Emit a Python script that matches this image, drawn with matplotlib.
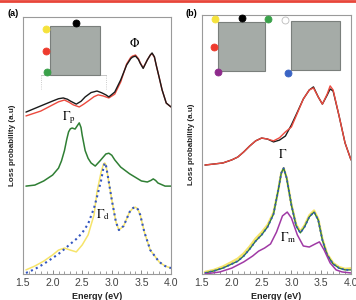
import matplotlib
matplotlib.use("Agg")
import matplotlib.pyplot as plt
from matplotlib.patches import Rectangle
from matplotlib.ticker import MultipleLocator

plt.rcParams['mathtext.fontset'] = 'stix'

# ---------------- data: panel (a) ----------------
E_phi_black = [1.55, 1.8, 2.0, 2.1, 2.18, 2.25, 2.3, 2.4, 2.48, 2.55, 2.65, 2.75, 2.83, 2.9, 2.95, 3.05, 3.15, 3.25, 3.32, 3.35, 3.4, 3.45, 3.48, 3.53, 3.6, 3.65, 3.68, 3.72, 3.75, 3.8, 3.85, 3.92, 4.0]
phi_black = [0.630, 0.654, 0.673, 0.682, 0.685, 0.680, 0.673, 0.661, 0.672, 0.689, 0.706, 0.712, 0.705, 0.697, 0.689, 0.708, 0.755, 0.813, 0.838, 0.844, 0.848, 0.835, 0.820, 0.800, 0.833, 0.852, 0.860, 0.845, 0.813, 0.765, 0.716, 0.665, 0.650]
E_phi_red = [1.55, 1.8, 2.0, 2.1, 2.2, 2.28, 2.35, 2.45, 2.52, 2.6, 2.7, 2.77, 2.85, 2.95, 3.05, 3.15, 3.25, 3.32, 3.35, 3.4, 3.45, 3.48, 3.53, 3.6, 3.65, 3.68, 3.72, 3.75, 3.8, 3.85, 3.92, 4.0]
phi_red = [0.615, 0.634, 0.658, 0.670, 0.677, 0.668, 0.658, 0.650, 0.660, 0.673, 0.690, 0.697, 0.693, 0.685, 0.700, 0.747, 0.817, 0.843, 0.848, 0.852, 0.838, 0.822, 0.802, 0.833, 0.852, 0.858, 0.843, 0.813, 0.765, 0.716, 0.665, 0.650]

E_gp = [1.55, 1.7, 1.85, 2.0, 2.1, 2.15, 2.2, 2.24, 2.27, 2.3, 2.33, 2.38, 2.42, 2.45, 2.48, 2.5, 2.55, 2.6, 2.65, 2.72, 2.8, 2.9, 2.95, 3.0, 3.05, 3.15, 3.3, 3.5, 3.6, 3.66, 3.7, 3.74, 3.78, 3.9, 4.0]
gamma_p = [0.342, 0.346, 0.362, 0.385, 0.412, 0.440, 0.480, 0.525, 0.553, 0.565, 0.568, 0.564, 0.578, 0.588, 0.570, 0.540, 0.480, 0.450, 0.432, 0.420, 0.440, 0.467, 0.470, 0.462, 0.444, 0.416, 0.390, 0.362, 0.358, 0.364, 0.370, 0.364, 0.354, 0.342, 0.342]

E_gd = [1.55, 1.7, 1.85, 2.0, 2.1, 2.2, 2.3, 2.4, 2.5, 2.6, 2.7, 2.75, 2.82, 2.86, 2.88, 2.9, 2.93, 3.0, 3.07, 3.12, 3.2, 3.3, 3.36, 3.4, 3.44, 3.48, 3.55, 3.65, 3.8, 3.9, 4.0]
gamma_d_yellow = [0.016, 0.031, 0.050, 0.074, 0.093, 0.101, 0.093, 0.086, 0.113, 0.152, 0.230, 0.320, 0.397, 0.428, 0.432, 0.425, 0.385, 0.288, 0.202, 0.171, 0.187, 0.241, 0.257, 0.260, 0.252, 0.230, 0.163, 0.093, 0.047, 0.031, 0.023]
gamma_d_blue = [0.004, 0.019, 0.039, 0.062, 0.078, 0.097, 0.117, 0.136, 0.160, 0.195, 0.257, 0.300, 0.365, 0.415, 0.432, 0.425, 0.385, 0.288, 0.202, 0.171, 0.187, 0.241, 0.257, 0.260, 0.252, 0.230, 0.163, 0.093, 0.047, 0.031, 0.023]

# ---------------- data: panel (b) ----------------
E_b_top = [1.55, 1.7, 1.85, 2.0, 2.1, 2.2, 2.3, 2.4, 2.5, 2.6, 2.7, 2.8, 2.9, 3.0, 3.1, 3.2, 3.3, 3.37, 3.45, 3.52, 3.6, 3.65, 3.7, 3.8, 3.9, 4.0]
b_black = [0.424, 0.428, 0.432, 0.444, 0.455, 0.475, 0.498, 0.518, 0.529, 0.525, 0.514, 0.521, 0.537, 0.580, 0.630, 0.681, 0.716, 0.728, 0.689, 0.661, 0.696, 0.720, 0.712, 0.615, 0.510, 0.444]
b_red = [0.424, 0.428, 0.432, 0.444, 0.455, 0.475, 0.498, 0.518, 0.529, 0.525, 0.518, 0.530, 0.553, 0.572, 0.626, 0.681, 0.716, 0.724, 0.689, 0.661, 0.700, 0.732, 0.716, 0.615, 0.510, 0.444]

E_g = [1.55, 1.7, 1.85, 2.0, 2.1, 2.2, 2.3, 2.4, 2.5, 2.6, 2.7, 2.78, 2.83, 2.87, 2.92, 3.0, 3.08, 3.15, 3.22, 3.3, 3.38, 3.45, 3.52, 3.6, 3.7, 3.8, 3.9, 4.0]
gamma_green = [0.004, 0.012, 0.023, 0.039, 0.050, 0.070, 0.097, 0.128, 0.152, 0.183, 0.233, 0.327, 0.393, 0.412, 0.374, 0.268, 0.187, 0.160, 0.183, 0.222, 0.241, 0.210, 0.132, 0.074, 0.039, 0.023, 0.016, 0.016]
gamma_yellow = [0.008, 0.016, 0.029, 0.047, 0.060, 0.080, 0.107, 0.138, 0.162, 0.191, 0.239, 0.327, 0.393, 0.412, 0.374, 0.270, 0.192, 0.166, 0.189, 0.228, 0.247, 0.214, 0.136, 0.078, 0.043, 0.027, 0.020, 0.022]
gamma_blue = gamma_green

E_m = [1.55, 1.8, 2.0, 2.2, 2.35, 2.45, 2.55, 2.65, 2.75, 2.85, 2.93, 3.0, 3.1, 3.2, 3.3, 3.4, 3.47, 3.55, 3.65, 3.75, 3.85, 4.0]
gamma_m = [0.000, 0.008, 0.023, 0.047, 0.070, 0.089, 0.101, 0.117, 0.163, 0.226, 0.241, 0.218, 0.152, 0.109, 0.105, 0.117, 0.125, 0.093, 0.043, 0.016, 0.008, 0.004]

xticks = [1.5, 2.0, 2.5, 3.0, 3.5, 4.0]

C_BLACK = '#1a1a1a'
C_RED = '#ec4a3e'
C_GREEN = '#2f7f34'
C_YELLOW = '#f6e46a'
C_BLUE = '#3456c0'
C_PURPLE = '#a03aa5'
C_SQ = '#a5aba7'
C_SQE = '#7a7f7c'
C_FRAME = '#9a9a9a'

fig = plt.figure(figsize=(3.56, 3.00), dpi=100)
fig.add_artist(plt.Line2D([0, 1], [0.996, 0.996], color='#e8463a', lw=2.0, transform=fig.transFigure))

axa = fig.add_axes([23/356, 1-274/300, 148/356, 257/300])
axb = fig.add_axes([202/356, 1-274/300, 149/356, 259/300])

def style(ax, ytop):
    ax.set_xlim(1.5, 4.0)
    ax.set_ylim(0, ytop)
    ax.set_xticks(xticks)
    ax.set_xticklabels([f"{v:.1f}" for v in xticks], fontsize=7.6, family='Liberation Sans', color='#444444')
    ax.xaxis.set_minor_locator(MultipleLocator(0.1))
    ax.tick_params(axis='x', which='major', direction='in', length=3, width=0.6, color='#777777', pad=3)
    ax.tick_params(axis='x', which='minor', direction='in', length=2, width=0.5, color='#777777')
    ax.set_yticks([])
    for s in ax.spines.values():
        s.set_color(C_FRAME)
        s.set_linewidth(0.8)
    ax.set_ylabel('Loss probability (a.u)', fontsize=5.8, fontweight='bold', family='Liberation Sans', labelpad=5, color='#222222')
    ax.set_xlabel('Energy (eV)', fontsize=6.5, fontweight='bold', family='Liberation Sans', labelpad=3, color='#222222')

style(axa, 1.0)
style(axb, 259/257)

kw = dict(solid_joinstyle='round', solid_capstyle='round')
# panel (a)
axa.plot(E_phi_red, phi_red, color=C_RED, lw=1.0, **kw)
axa.plot(E_phi_black, phi_black, color=C_BLACK, lw=1.0, **kw)
axa.plot(E_gp, gamma_p, color=C_GREEN, lw=1.1, **kw)
axa.plot(E_gd, gamma_d_yellow, color=C_YELLOW, lw=1.1, **kw)
axa.plot(E_gd, gamma_d_blue, color=C_BLUE, lw=1.5, ls=(0, (1, 1.6)))

axa.text(3.38, 0.895, r'$\Phi$', fontsize=9, ha='center', va='center')
axa.text(2.27, 0.61, r'$\Gamma_{\rm p}$', fontsize=9, ha='center', va='center')
axa.text(2.85, 0.23, r'$\Gamma_{\rm d}$', fontsize=9, ha='center', va='center')

# panel (b)
axb.plot(E_b_top, b_black, color=C_BLACK, lw=1.0, **kw)
axb.plot(E_b_top, b_red, color=C_RED, lw=1.0, **kw)
axb.plot(E_g, gamma_yellow, color=C_YELLOW, lw=1.7, **kw)
axb.plot(E_g, gamma_green, color=C_GREEN, lw=1.0, **kw)
axb.plot(E_g, gamma_blue, color=C_BLUE, lw=1.3, ls=(0, (1, 1.6)))
axb.plot(E_m, gamma_m, color=C_PURPLE, lw=1.1, **kw)

axb.text(2.86, 0.465, r'$\Gamma$', fontsize=9, ha='center', va='center')
axb.text(2.95, 0.14, r'$\Gamma_{\rm m}$', fontsize=9, ha='center', va='center')

# insets (schematics)
def dot(ax, x, y, c, hollow=False):
    ax.plot([x], [y], 'o', transform=ax.transAxes, clip_on=False, ms=5,
            mfc='white' if hollow else c, mec='#bbbbbb' if hollow else c, mew=0.6, zorder=5)

axa.add_patch(Rectangle((0.182, 0.774), 0.338, 0.191, transform=axa.transAxes, fc=C_SQ, ec=C_SQE, lw=0.8, zorder=4))
axa.plot([0.122, 0.561], [0.774, 0.774], transform=axa.transAxes, color='#bbbbbb', lw=0.6)
axa.plot([0.122, 0.122], [0.774, 0.72], transform=axa.transAxes, color='#bbbbbb', lw=0.6, ls=':')
axa.plot([0.561, 0.561], [0.774, 0.72], transform=axa.transAxes, color='#bbbbbb', lw=0.6, ls=':')
dot(axa, 0.358, 0.977, 'black')
dot(axa, 0.155, 0.953, '#f5e23c')
dot(axa, 0.155, 0.868, '#ee3b2e')
dot(axa, 0.165, 0.786, '#3aa14a')

axb.add_patch(Rectangle((0.107, 0.784), 0.316, 0.189, transform=axb.transAxes, fc=C_SQ, ec=C_SQE, lw=0.8, zorder=4))
axb.add_patch(Rectangle((0.597, 0.788), 0.329, 0.189, transform=axb.transAxes, fc=C_SQ, ec=C_SQE, lw=0.8, zorder=4))
dot(axb, 0.087, 0.985, '#f5e23c')
dot(axb, 0.268, 0.988, 'black')
dot(axb, 0.443, 0.985, '#3aa14a')
dot(axb, 0.557, 0.981, 'white', hollow=True)
dot(axb, 0.081, 0.876, '#ee3b2e')
dot(axb, 0.107, 0.780, '#8e2a8c')
dot(axb, 0.577, 0.776, '#3a64c4')

fig.text(7/356, 1-14/300, '(a)', fontsize=6.5, fontweight='bold', family='Liberation Sans', va='center')
fig.text(185/356, 1-14/300, '(b)', fontsize=6.5, fontweight='bold', family='Liberation Sans', va='center')

fig.savefig('out.png', dpi=100)
